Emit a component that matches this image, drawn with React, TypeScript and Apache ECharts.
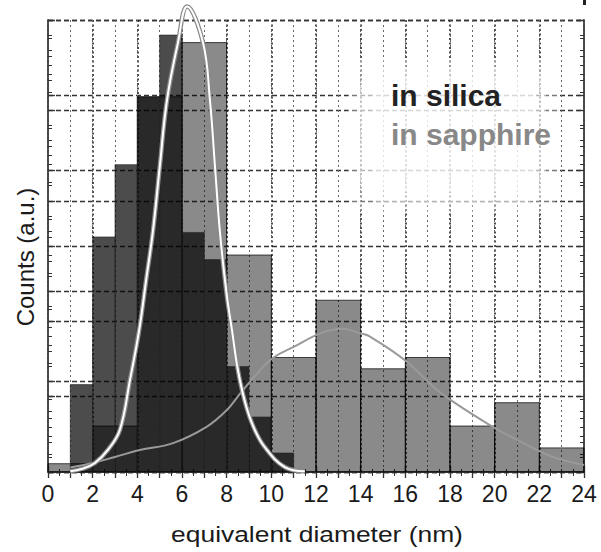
import React, { useEffect, useRef } from "react";
import * as echarts from "echarts";

// ---- data ----
// silica: 1 nm bins (bin start, counts in a.u.)
const silicaBinStart = [0, 1, 2, 3, 4, 5, 6, 7, 8, 9, 10, 11];
const silicaCounts = [0, 5.8, 15.6, 20.4, 24.9, 29.0, 15.9, 14.1, 7.0, 3.65, 1.26, 0];
const SILICA_BIN = 1;

// sapphire: 2 nm bins
const sapphireBinStart = [0, 2, 4, 6, 8, 10, 12, 14, 16, 18, 20, 22];
const sapphireCounts = [0.55, 3.05, 24.9, 28.5, 14.4, 7.6, 11.4, 6.85, 7.6, 3.05, 4.6, 1.6];
const SAPPHIRE_BIN = 2;

// fitted curves (x nm, counts)
const silicaFitX = [1.0, 1.5, 2.1, 2.7, 3.22, 3.67, 4.08, 4.4, 4.7, 5.0, 5.33, 5.82, 6.23, 6.94, 7.25, 7.48, 7.7, 8.0, 8.24, 8.5, 8.83, 9.2, 9.7, 10.6, 11.5];
const silicaFitY = [0.05, 0.2, 0.6, 1.5, 2.8, 6.1, 9.4, 12.8, 16.0, 20.2, 24.7, 28.5, 30.9, 28.5, 24.7, 20.2, 15.9, 11.8, 9.4, 6.8, 4.6, 3.0, 1.66, 0.33, 0.05];

const sapphireFitX = [1.0, 2.0, 3.0, 4.1, 5.6, 7.1, 8.0, 8.6, 9.4, 10.1, 11.0, 12.2, 13.2, 14.0, 14.4, 16.0, 17.3, 18.0, 19.8, 21.3, 22.6, 24.0];
const sapphireFitY = [0.3, 0.6, 1.0, 1.46, 1.92, 3.0, 4.1, 5.2, 6.6, 7.6, 8.3, 9.2, 9.5, 9.2, 9.0, 7.4, 5.6, 4.8, 3.1, 1.9, 1.0, 0.46];

const xTickLabels = ["0", "2", "4", "6", "8", "10", "12", "14", "16", "18", "20", "22", "24"];
const legendLabels = ["in silica", "in sapphire"];
const xName = "equivalent diameter (nm)";
const yName = "Counts (a.u.)";

const FONT = "'Liberation Sans', Arial, Helvetica, sans-serif";

export default function App() {
  const ref = useRef<HTMLDivElement>(null);

  useEffect(() => {
    if (!ref.current) return;
    const chart = echarts.init(ref.current, undefined, { renderer: "svg" });

    const silicaData = silicaBinStart.map((s, i) => [s, s + SILICA_BIN, silicaCounts[i]]);
    const sapphireData = sapphireBinStart.map((s, i) => [s, s + SAPPHIRE_BIN, sapphireCounts[i]]);
    const silicaFit = silicaFitX.map((x, i) => [x, silicaFitY[i]]);
    const sapphireFit = sapphireFitX.map((x, i) => [x, sapphireFitY[i]]);

    const makeRender = (fill: string, stroke: string, lw: number) => (params: any, api: any) => {
      const x0 = api.value(0);
      const x1 = api.value(1);
      const v = api.value(2);
      const p0 = api.coord([x0, v]);
      const p1 = api.coord([x1, 0]);
      return {
        type: "rect",
        shape: { x: p0[0], y: p0[1], width: p1[0] - p0[0], height: p1[1] - p0[1] },
        style: { fill, stroke, lineWidth: lw },
      };
    };

    const axisLine = { show: true, lineStyle: { color: "#444", width: 1.5 } };
    const hDash = { show: true, lineStyle: { color: "#333", width: 1.3, type: [5, 3] as any } };

    const yBase = (interval: number, position: string, split: boolean) => ({
      type: "value",
      min: 0,
      max: 30,
      interval,
      position,
      axisLine,
      axisTick: { show: true, inside: true, length: 7, lineStyle: { color: "#333", width: 1.3 } },
      minorTick: { show: true, splitNumber: 5, length: 4, lineStyle: { color: "#333", width: 1 } },
      axisLabel: { show: false },
      splitLine: split ? hDash : { show: false },
    });

    const fadeRect = (x: number, y: number, w: number, h: number, a: number) => ({
      type: "rect",
      z: 1,
      silent: true,
      shape: { x, y, width: w, height: h, r: 20 },
      style: { fill: `rgba(255,255,255,${a})` },
    });

    chart.setOption({
      animation: false,
      backgroundColor: "#ffffff",
      grid: { left: 48, top: 20, right: 17, bottom: 80, containLabel: false },
      xAxis: [
        {
          type: "value",
          min: 0,
          max: 24,
          interval: 2,
          position: "bottom",
          axisLine,
          axisTick: { show: true, inside: true, length: 6, lineStyle: { color: "#333", width: 1.3 } },
          minorTick: { show: true, splitNumber: 4, length: 3, lineStyle: { color: "#333", width: 1 } },
          axisLabel: {
            show: true,
            margin: 10,
            fontSize: 23,
            color: "#1a1a1a",
            fontFamily: FONT,
            showMinLabel: true,
            showMaxLabel: true,
            formatter: (v: number) => xTickLabels[Math.round(v / 2)] ?? "",
          },
          splitLine: { show: true, lineStyle: { color: "#222", width: 1.6, type: [2, 2.5] as any } },
        },
        {
          type: "value",
          min: 0,
          max: 24,
          interval: 1,
          position: "top",
          axisLine,
          axisTick: { show: true, inside: true, length: 6, lineStyle: { color: "#333", width: 1.3 } },
          minorTick: { show: true, splitNumber: 2, length: 4, lineStyle: { color: "#333", width: 1 } },
          axisLabel: { show: false },
          splitLine: { show: true, lineStyle: { color: "#666", width: 1, type: [2, 3] as any } },
        },
      ],
      yAxis: [yBase(6, "left", true), yBase(5, "left", true), yBase(6, "right", false), yBase(5, "right", false)],
      series: [
        {
          type: "custom",
          name: "sapphire",
          xAxisIndex: 0,
          yAxisIndex: 0,
          z: 2,
          renderItem: makeRender("rgba(0,0,0,0.46)", "rgba(0,0,0,0.7)", 1),
          encode: { x: [0, 1], y: 2 },
          data: sapphireData,
        },
        {
          type: "custom",
          name: "silica",
          xAxisIndex: 0,
          yAxisIndex: 0,
          z: 3,
          renderItem: makeRender("rgba(0,0,0,0.7)", "rgba(40,40,40,0.8)", 0.8),
          encode: { x: [0, 1], y: 2 },
          data: silicaData,
        },
        {
          type: "line",
          name: "sapphire fit",
          z: 4,
          smooth: 0.4,
          symbol: "none",
          clip: false,
          lineStyle: { color: "#9a9a9a", width: 2 },
          data: sapphireFit,
        },
        {
          type: "line",
          name: "silica fit outline",
          z: 5,
          smooth: 0.4,
          symbol: "none",
          clip: false,
          lineStyle: { color: "#8a8a8a", width: 4.5 },
          data: silicaFit,
        },
        {
          type: "line",
          name: "silica fit",
          z: 6,
          smooth: 0.4,
          symbol: "none",
          clip: false,
          lineStyle: { color: "#ffffff", width: 2 },
          data: silicaFit,
        },
      ],
      graphic: [
        fadeRect(348, 58, 210, 154, 0.35),
        fadeRect(360, 68, 186, 134, 0.45),
        fadeRect(372, 78, 162, 114, 0.45),
        {
          type: "text",
          z: 10,
          style: { text: legendLabels[0], x: 391, y: 80, fill: "#222", font: `bold 30px ${FONT}`, verticalAlign: "top" },
        },
        {
          type: "text",
          z: 10,
          style: { text: legendLabels[1], x: 391, y: 119, fill: "#888", font: `bold 30px ${FONT}`, verticalAlign: "top" },
        },
        {
          type: "text",
          z: 10,
          x: 317,
          y: 534,
          scaleX: 1.2,
          style: { text: xName, x: 0, y: 0, fill: "#1a1a1a", font: `22px ${FONT}`, align: "center", verticalAlign: "middle" },
        },
        {
          type: "text",
          z: 10,
          x: 25,
          y: 257,
          rotation: Math.PI / 2,
          style: { text: yName, x: 0, y: 0, fill: "#1a1a1a", font: `24px ${FONT}`, align: "center", verticalAlign: "middle" },
        },
        {
          type: "rect",
          z: 10,
          shape: { x: 583, y: 0, width: 3, height: 5 },
          style: { fill: "#222" },
        },
      ],
    });

    return () => chart.dispose();
  }, []);

  return (
    <div
      ref={ref}
      style={{ position: "fixed", left: 0, top: 0, width: 601, height: 552, background: "#fff" }}
    />
  );
}
